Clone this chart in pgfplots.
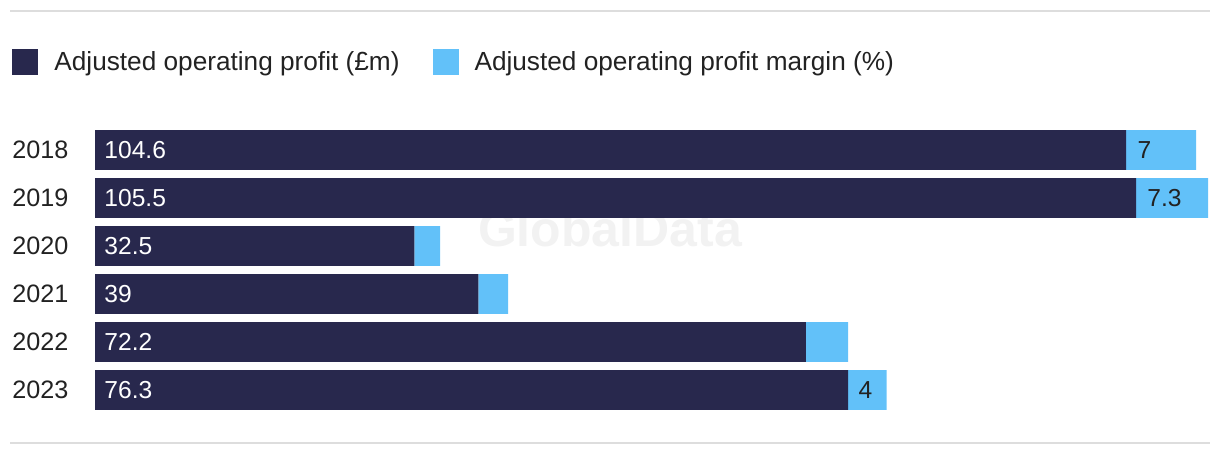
\documentclass[border=0pt]{standalone}
\usepackage{fontspec}
\setmainfont{Liberation Sans}
\usepackage{pgfplots}
\pgfplotsset{compat=1.18}
\definecolor{navy}{HTML}{28284D}
\definecolor{sky}{HTML}{62C1F9}
\definecolor{rule}{HTML}{DDDDDD}
\definecolor{labgray}{HTML}{222222}

\begin{document}
\begin{tikzpicture}[vlab/.style={anchor=west, inner sep=0pt, font=\fontsize{12.3}{14}\selectfont}]
\path[use as bounding box] (0,0) rectangle (610pt,228pt);
% thin rules top and bottom
\draw[rule, line width=1pt] (5pt,222.5pt) -- (605pt,222.5pt);
\draw[rule, line width=1pt] (5pt,6.5pt) -- (605pt,6.5pt);
% faint watermark
\node[font=\fontsize{25}{25}\selectfont\bfseries, text=black!5] at (305pt,113.5pt) {GlobalData};
\begin{axis}[
  at={(47.5pt,21pt)}, anchor=south west,
  scale only axis, width=557pt, height=144pt,
  xbar stacked, bar width=0.83,
  xmin=0, xmax=113, ymin=-0.5, ymax=5.5,
  y dir=reverse,
  axis line style={draw=none}, tick style={draw=none},
  xtick=\empty,
  ytick={0,1,2,3,4,5},
  yticklabels={2018,2019,2020,2021,2022,2023},
  yticklabel style={anchor=west, inner sep=0pt, xshift=-41.5pt,
    font=\fontsize{12.6}{14}\selectfont, text=labgray},
  legend columns=2,
  legend style={draw=none, fill=none, at={(-0.0745,1.222)}, anchor=west,
    inner sep=0pt, font=\fontsize{13.1}{15}\selectfont, text=labgray,
    /tikz/every even column/.append style={column sep=14.5pt}},
  legend image code/.code={\fill[#1] (0pt,-6.5pt) rectangle (13pt,6.5pt);},
  legend cell align=left,
]
\addplot[fill=navy, draw=none] coordinates {
  (104.6,0) (105.6,1) (32.4,2) (38.9,3) (72.1,4) (76.4,5)
};
\addlegendentry{\hspace{6pt}Adjusted operating profit (£m)}
\addplot[fill=sky, draw=none] coordinates {
  (7.1,0) (7.3,1) (2.6,2) (3.0,3) (4.3,4) (3.9,5)
};
\addlegendentry{\hspace{6pt}Adjusted operating profit margin (\%)}
% anchor points for the value labels
\coordinate (a0) at (axis cs:0,0);
\coordinate (a1) at (axis cs:0,1);
\coordinate (a2) at (axis cs:0,2);
\coordinate (a3) at (axis cs:0,3);
\coordinate (a4) at (axis cs:0,4);
\coordinate (a5) at (axis cs:0,5);
\coordinate (b0) at (axis cs:104.6,0);
\coordinate (b1) at (axis cs:105.6,1);
\coordinate (b5) at (axis cs:76.4,5);
\end{axis}
\node[vlab, text=white, xshift=4.5pt] at (a0) {104.6};
\node[vlab, text=white, xshift=4.5pt] at (a1) {105.5};
\node[vlab, text=white, xshift=4.5pt] at (a2) {32.5};
\node[vlab, text=white, xshift=4.5pt] at (a3) {39};
\node[vlab, text=white, xshift=4.5pt] at (a4) {72.2};
\node[vlab, text=white, xshift=4.5pt] at (a5) {76.3};
\node[vlab, text=labgray, xshift=5.5pt] at (b0) {7};
\node[vlab, text=labgray, xshift=5.5pt] at (b1) {7.3};
\node[vlab, text=labgray, xshift=5pt] at (b5) {4};
\end{tikzpicture}
\end{document}
